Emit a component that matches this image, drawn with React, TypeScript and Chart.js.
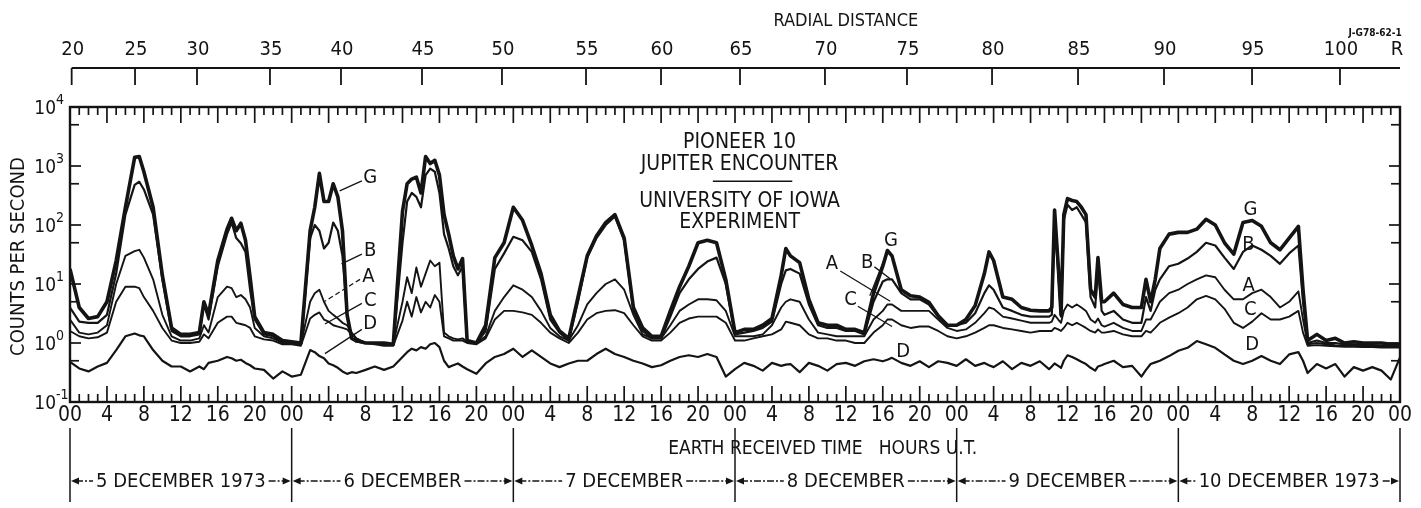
import React, { useEffect, useRef } from "react";
import { Chart, registerables } from "chart.js";

Chart.register(...registerables);

const INK = "#141414";
const FONT = "'Liberation Sans Narrow', 'DejaVu Sans Condensed', 'Liberation Sans', sans-serif";

// ---- time samples (hours after 00 UT, 5 December 1973) ----
const hours = [
  // 5 Dec
  0, 1, 2, 3, 4, 5, 6, 7, 7.5, 8, 9, 10, 11, 12, 13, 14, 14.5, 15, 16, 17, 17.5, 18, 18.5, 19, 19.5, 20, 21, 22, 23,
  // 6 Dec
  24, 25, 26, 26.5, 27, 27.5, 28, 28.5, 29, 29.5, 30, 30.5, 31, 32, 33, 34, 35, 36, 36.5, 37, 37.5, 38, 38.5, 39, 39.5, 40, 40.5, 41, 41.5, 42, 42.5, 43, 44, 45, 46, 47,
  // 7 Dec
  48, 49, 50, 51, 52, 53, 54, 55, 56, 57, 58, 59, 60, 61, 62, 63, 64, 65, 66, 67, 68, 69, 70, 71,
  // 8 Dec
  72, 73, 74, 75, 76, 77, 77.5, 78, 79, 80, 81, 82, 83, 84, 85, 86, 87, 88, 88.5, 89, 90, 91, 92, 93, 94, 95,
  // 9 Dec
  96, 97, 98, 99, 99.5, 100, 101, 102, 103, 104, 105, 106, 106.3, 106.6, 107, 107.3, 107.6, 108, 108.5, 109, 109.5, 110, 110.5, 111, 111.3, 111.7, 112, 113, 114, 115, 116, 116.5, 117, 117.5, 118, 119,
  // 10 Dec
  120, 121, 122, 123, 124, 125, 126, 127, 128, 129, 130, 131, 132, 133, 133.5, 134, 135, 136, 137, 138, 139, 140, 141, 142, 143, 144,
];

// ---- counts per second ----
const seriesG = [
  18, 4, 2.6, 2.8, 5, 25, 200, 1400, 1450, 800, 200, 14, 1.8, 1.4, 1.4, 1.5, 5, 3, 25, 85, 130, 80, 107, 55, 13, 2.8, 1.5, 1.4, 1.1,
  1.05, 1.0, 80, 200, 750, 250, 250, 500, 300, 80, 3, 1.2, 1.1, 1.0, 1.0, 1.0, 0.95, 170, 500, 600, 650, 350, 1450, 1100, 1250, 700, 150, 70, 30, 18, 27, 1.1, 1.0, 2, 28, 50,
  200, 120, 45, 15, 3, 1.6, 1.2, 6, 30, 65, 110, 150, 60, 4, 1.8, 1.3, 1.3, 3.5, 9, 20, 50, 55, 50, 12,
  1.5, 1.7, 1.7, 2, 2.6, 14, 40, 30, 23, 5.5, 2.2, 2, 2, 1.7, 1.7, 1.5, 7, 20, 37, 30, 8, 6.3, 6, 4.9, 2.9, 2,
  2, 2.5, 4.3, 15, 35, 25, 6, 5.5, 4, 3.6, 3.5, 3.5, 4, 180, 20, 3, 150, 280, 260, 250, 200, 150, 8, 6, 28, 5, 5, 7, 4.5, 4, 4, 12, 5, 12, 40, 70,
  75, 75, 85, 125, 100, 50, 32, 110, 119, 95, 50, 38, 60, 95, 8, 1.1, 1.4, 1.1, 1.2, 1.0, 1.05, 1.0, 1.0, 1.0, 0.95, 0.95,
];
const seriesB = [
  4, 2.3, 2.2, 2.2, 3, 15, 150, 480, 540, 400, 150, 12, 1.6, 1.3, 1.3, 1.4, 4.5, 2.5, 20, 70, 110, 60, 49, 35, 8, 2.5, 1.4, 1.3, 1.0,
  1.0, 0.95, 60, 100, 80, 40, 50, 110, 80, 30, 3, 1.2, 1.05, 1.0, 1.0, 0.95, 0.95, 50, 250, 350, 300, 200, 700, 900, 800, 350, 70, 40, 20, 14, 20, 1.05, 1.0, 1.6, 18, 33,
  63, 55, 35, 12, 2.5, 1.5, 1.1, 5, 28, 60, 100, 140, 55, 3.5, 1.6, 1.2, 1.2, 2.8, 7, 12, 18, 24, 28, 10,
  1.4, 1.5, 1.6, 1.8, 2.3, 10, 17, 18, 15, 4.5, 2, 1.8, 1.8, 1.6, 1.6, 1.4, 5, 11, 12, 12, 7, 5.5, 5.5, 4.5, 2.8, 2,
  2, 2.2, 3.2, 7, 9.5, 8, 4, 3.5, 3, 2.8, 2.8, 2.8, 3, 130, 15, 2.8, 120, 220, 180, 200, 150, 110, 6, 4, 20, 3.5, 3, 3.5, 2.5, 2.2, 2.2, 6, 3.5, 8, 12, 20,
  22, 27, 35, 50, 45, 28, 18, 35, 45, 38, 30, 22, 33, 45, 5, 1.0, 1.1, 1.0, 1.0, 0.95, 0.95, 0.92, 0.92, 0.9, 0.9, 0.9,
];
const seriesA = [
  2.5, 1.5, 1.4, 1.5, 2, 10, 30, 36, 38, 28, 12, 3, 1.3, 1.1, 1.1, 1.2, 2, 1.5, 6, 9, 8.5, 6, 6.5, 5.5, 4, 1.8, 1.3, 1.2, 1.0,
  1.0, 0.95, 5, 7, 8, 5, 3.5, 3, 2.6, 2.2, 2, 1.5, 1.2, 1.0, 1.0, 0.95, 0.95, 5, 13, 7, 19, 9, 15, 25, 20, 23, 1.5, 1.3, 1.2, 1.15, 1.2, 1.05, 1.0, 1.3, 3.5, 6,
  9.5, 8, 6, 3.5, 1.8, 1.3, 1.1, 2, 4.5, 7, 10, 12, 8, 3, 1.4, 1.2, 1.2, 2, 3.5, 4.5, 5.5, 5.5, 5.3, 3.5,
  1.3, 1.3, 1.3, 1.4, 2, 4, 5, 5.5, 5, 2.5, 1.5, 1.4, 1.3, 1.3, 1.3, 1.3, 2.5, 3.5, 4.5, 4.5, 3.5, 3.5, 3.5, 3.5, 2.5, 1.8,
  1.6, 1.7, 2.2, 3.2, 4, 3.8, 2.8, 2.6, 2.4, 2.2, 2.2, 2.2, 2.3, 3, 2.5, 2.2, 3.5, 4.5, 4, 4.5, 4, 3.5, 2.5, 2.2, 2.6, 2, 1.9, 2.2, 1.8, 1.6, 1.6, 2.5, 2.5, 3.5, 5, 7,
  8, 10, 12, 14, 13, 8, 5.5, 5.5, 7, 8, 6, 4, 5, 7.5, 2.5, 0.95, 1.0, 0.95, 0.92, 0.9, 0.9, 0.88, 0.88, 0.88, 0.86, 0.86,
];
const seriesC = [
  1.6, 1.3, 1.2, 1.25, 1.5, 5, 9, 9, 8.5, 6, 3.5, 1.8, 1.1, 1.0, 1.0, 1.05, 1.4, 1.2, 2.2, 2.8, 2.8, 2.2, 2.1, 2, 1.8, 1.3, 1.15, 1.1, 0.95,
  0.95, 0.9, 2.6, 3, 3.3, 2.5, 2.3, 2, 1.9, 1.8, 1.7, 1.4, 1.2, 1.0, 0.95, 0.9, 0.9, 2.4, 5, 2.8, 6, 3.3, 5, 4, 6.5, 5, 1.3, 1.2, 1.1, 1.1, 1.1, 1.0, 0.95, 1.2, 2.5, 3.5,
  3.5, 3.3, 3, 2.2, 1.5, 1.2, 1.0, 1.5, 2.5, 3.2, 3.5, 3.6, 3.2, 2, 1.3, 1.1, 1.1, 1.5, 2.2, 2.6, 2.8, 2.8, 2.8, 2.2,
  1.1, 1.1, 1.2, 1.3, 1.4, 1.7, 2.3, 2.2, 2, 1.4, 1.2, 1.2, 1.1, 1.1, 1.0, 1.0, 1.5, 2, 2.5, 2.5, 2, 1.8, 1.9, 1.9, 1.6, 1.3,
  1.2, 1.3, 1.5, 1.8, 2, 2, 1.8, 1.7, 1.6, 1.5, 1.6, 1.6, 1.6, 1.8, 1.7, 1.6, 1.8, 2.2, 2, 2.2, 2, 1.8, 1.6, 1.5, 1.7, 1.5, 1.5, 1.6, 1.4, 1.3, 1.3, 1.6, 1.5, 1.8, 2.2, 2.7,
  3.2, 4, 5.5, 6.3, 5.5, 3.8, 2.2, 1.8, 2.3, 3.2, 2.5, 2.5, 2.8, 3.5, 1.5, 0.9, 0.92, 0.9, 0.88, 0.86, 0.86, 0.85, 0.85, 0.84, 0.84, 0.84,
];
const seriesD = [
  0.48, 0.37, 0.33, 0.4, 0.46, 0.76, 1.3, 1.45, 1.35, 1.3, 0.76, 0.5, 0.4, 0.4, 0.33, 0.4, 0.36, 0.46, 0.5, 0.58, 0.55, 0.5, 0.52, 0.46, 0.42, 0.37, 0.35, 0.25, 0.33,
  0.27, 0.29, 0.76, 0.7, 0.6, 0.55, 0.45, 0.42, 0.38, 0.33, 0.3, 0.32, 0.31, 0.35, 0.4, 0.35, 0.4, 0.58, 0.7, 0.8, 0.75, 0.85, 0.8, 0.95, 1.0, 0.85, 0.5, 0.39, 0.42, 0.45, 0.4, 0.36, 0.3, 0.45, 0.58, 0.65,
  0.8, 0.58, 0.75, 0.58, 0.45, 0.39, 0.45, 0.5, 0.5, 0.65, 0.8, 0.65, 0.58, 0.5, 0.45, 0.39, 0.42, 0.5, 0.58, 0.62, 0.58, 0.65, 0.58, 0.27,
  0.36, 0.46, 0.41, 0.34, 0.46, 0.41, 0.43, 0.44, 0.32, 0.46, 0.41, 0.34, 0.44, 0.46, 0.41, 0.49, 0.53, 0.49, 0.52, 0.56, 0.46, 0.41, 0.49, 0.39, 0.49, 0.46,
  0.41, 0.53, 0.41, 0.46, 0.42, 0.39, 0.49, 0.36, 0.46, 0.41, 0.49, 0.36, 0.4, 0.45, 0.41, 0.38, 0.5, 0.62, 0.58, 0.53, 0.48, 0.44, 0.38, 0.34, 0.4, 0.42, 0.44, 0.5, 0.39, 0.41, 0.27, 0.35, 0.44, 0.47, 0.5, 0.6,
  0.74, 0.83, 1.08, 0.95, 0.83, 0.64, 0.5, 0.44, 0.5, 0.6, 0.5, 0.44, 0.64, 0.7, 0.5, 0.31, 0.44, 0.37, 0.44, 0.27, 0.39, 0.34, 0.39, 0.34, 0.24, 0.57,
];

// ---- axes ----
const bottomTickHours = [0, 4, 8, 12, 16, 20, 24, 28, 32, 36, 40, 44, 48, 52, 56, 60, 64, 68, 72, 76, 80, 84, 88, 92, 96, 100, 104, 108, 112, 116, 120, 124, 128, 132, 136, 140, 144];
const bottomTickLabels = ["00", "4", "8", "12", "16", "20", "00", "4", "8", "12", "16", "20", "00", "4", "8", "12", "16", "20", "00", "4", "8", "12", "16", "20", "00", "4", "8", "12", "16", "20", "00", "4", "8", "12", "16", "20", "00"];
const radialTickHours = [0.18, 7.04, 13.75, 21.65, 29.34, 38.11, 46.77, 55.87, 63.99, 72.54, 81.74, 90.62, 99.83, 109.14, 118.45, 127.98, 137.5];
const radialTickLabels = ["20", "25", "30", "35", "40", "45", "50", "55", "60", "65", "70", "75", "80", "85", "90", "95", "100"];
const yTickValues = [0.1, 1, 10, 100, 1000, 10000];
const yTickExponents = ["-1", "0", "1", "2", "3", "4"];
const yMinorTickValues = [0.5, 5, 50, 500, 5000];
const dayStartHours = [0, 24, 48, 72, 96, 120, 144];
const dayLabels = ["5 DECEMBER 1973", "6 DECEMBER", "7 DECEMBER", "8 DECEMBER", "9 DECEMBER", "10 DECEMBER 1973"];

// ---- curve labels (hour, counts) with leader lines ----
type Lbl = { t: string; x: number; y: number; from?: [number, number]; to?: [number, number]; dash?: boolean };
const curveLabels: Lbl[] = [
  { t: "G", x: 32.5, y: 630, from: [31.6, 560], to: [29.2, 380] },
  { t: "B", x: 32.5, y: 36, from: [31.6, 32], to: [29.4, 22] },
  { t: "A", x: 32.3, y: 13.5, from: [31.4, 12], to: [27.6, 5.1], dash: true },
  { t: "C", x: 32.5, y: 5.1, from: [31.6, 4.7], to: [27.6, 2.1] },
  { t: "D", x: 32.5, y: 2.1, from: [31.6, 1.7], to: [27.6, 0.66] },
  { t: "G", x: 88.9, y: 54, from: [88.5, 36], to: [86.6, 6.3] },
  { t: "B", x: 86.3, y: 23, from: [87.1, 19.5], to: [88.8, 12.3] },
  { t: "A", x: 82.5, y: 22, from: [83.4, 16.6], to: [88.8, 5.1] },
  { t: "C", x: 84.5, y: 5.5, from: [85.3, 4.2], to: [89.0, 1.9] },
  { t: "D", x: 90.2, y: 0.72 },
  { t: "G", x: 127.8, y: 178 },
  { t: "B", x: 127.6, y: 47 },
  { t: "A", x: 127.6, y: 9.3 },
  { t: "C", x: 127.8, y: 3.7 },
  { t: "D", x: 128.0, y: 0.93 },
];

const titleLines = ["PIONEER 10", "JUPITER ENCOUNTER", "UNIVERSITY OF IOWA", "EXPERIMENT"];
const titleLineCounts = [2500, 1050, 245, 108];

const decorPlugin = {
  id: "decor",
  afterDraw(chart: any) {
    const { ctx, chartArea: a, scales } = chart;
    const xs = scales.x;
    const ys = scales.y;
    const X = (h: number) => xs.getPixelForValue(h);
    const Y = (v: number) => ys.getPixelForValue(v);
    const line = (x1: number, y1: number, x2: number, y2: number) => {
      ctx.beginPath();
      ctx.moveTo(x1, y1);
      ctx.lineTo(x2, y2);
      ctx.stroke();
    };
    ctx.save();
    ctx.strokeStyle = INK;
    ctx.fillStyle = INK;
    ctx.lineCap = "butt";

    // frame
    ctx.lineWidth = 2.4;
    ctx.strokeRect(a.left, a.top, a.right - a.left, a.bottom - a.top);

    // inward hour ticks top & bottom
    ctx.lineWidth = 1.7;
    for (let h = 0; h <= 144; h++) {
      const px = X(h);
      const major = h % 4 === 0;
      line(px, a.top, px, a.top + (major ? 16 : 8));
      line(px, a.bottom, px, a.bottom - (major ? 16 : 8));
    }
    // inward log ticks left & right
    for (const v of yTickValues) {
      const py = Y(v);
      line(a.left, py, a.left + 11, py);
      line(a.right, py, a.right - 11, py);
    }
    for (const v of yMinorTickValues) {
      const py = Y(v);
      line(a.left, py, a.left + 9, py);
      line(a.right, py, a.right - 9, py);
    }

    // y tick labels with superscripts
    ctx.textBaseline = "middle";
    for (let i = 0; i < yTickValues.length; i++) {
      const py = Y(yTickValues[i]);
      ctx.font = `19px ${FONT}`;
      ctx.textAlign = "right";
      ctx.fillText("10", 56, py + 2);
      ctx.font = `14px ${FONT}`;
      ctx.textAlign = "left";
      ctx.fillText(yTickExponents[i], 56, py - 7);
    }

    // y title
    ctx.save();
    ctx.translate(19, (a.top + a.bottom) / 2 + 2);
    ctx.rotate(-Math.PI / 2);
    ctx.font = `20px ${FONT}`;
    ctx.textAlign = "center";
    ctx.fillText("COUNTS PER SECOND", 0, 0);
    ctx.restore();

    // radial distance axis
    const ry = 68;
    ctx.lineWidth = 1.8;
    line(X(radialTickHours[0]), ry, X(144), ry);
    ctx.font = `20px ${FONT}`;
    ctx.textAlign = "center";
    ctx.textBaseline = "middle";
    for (let i = 0; i < radialTickHours.length; i++) {
      const px = X(radialTickHours[i]);
      line(px, ry, px, ry + 17);
      ctx.fillText(radialTickLabels[i], px + 1, 50);
    }
    ctx.fillText("R", X(144) - 3, 50);
    ctx.font = `18px ${FONT}`;
    ctx.fillText("RADIAL DISTANCE", X(84), 21);
    ctx.font = `bold 10px ${FONT}`;
    ctx.fillText("J-G78-62-1", X(141.3), 33);

    // x title
    ctx.font = `19px ${FONT}`;
    ctx.fillText("EARTH RECEIVED TIME   HOURS U.T.", X(81.5), 449);

    // day brackets
    ctx.lineWidth = 1.5;
    for (const h of dayStartHours) {
      line(X(h), 428, X(h), 502);
    }
    ctx.font = `20px ${FONT}`;
    for (let i = 0; i < dayLabels.length; i++) {
      const x0 = X(dayStartHours[i]);
      const x1 = X(dayStartHours[i + 1]);
      const cx = (x0 + x1) / 2;
      const w = ctx.measureText(dayLabels[i]).width;
      const yy = 481;
      ctx.fillText(dayLabels[i], cx, yy + 1);
      ctx.setLineDash([7, 2, 2, 2]);
      ctx.lineWidth = 1.3;
      line(x0 + 6, yy, cx - w / 2 - 3, yy);
      line(cx + w / 2 + 3, yy, x1 - 6, yy);
      ctx.setLineDash([]);
      ctx.beginPath();
      ctx.moveTo(x0 + 1, yy);
      ctx.lineTo(x0 + 9, yy - 3.5);
      ctx.lineTo(x0 + 9, yy + 3.5);
      ctx.closePath();
      ctx.fill();
      ctx.beginPath();
      ctx.moveTo(x1 - 1, yy);
      ctx.lineTo(x1 - 9, yy - 3.5);
      ctx.lineTo(x1 - 9, yy + 3.5);
      ctx.closePath();
      ctx.fill();
    }

    // title block
    ctx.font = `21px ${FONT}`;
    ctx.textAlign = "center";
    for (let i = 0; i < titleLines.length; i++) {
      ctx.fillText(titleLines[i], X(72.5), Y(titleLineCounts[i]));
    }
    ctx.lineWidth = 1.6;
    line(X(69.6), Y(550), X(78.2), Y(550));

    // curve labels
    ctx.font = `20px ${FONT}`;
    ctx.lineWidth = 1.3;
    for (const l of curveLabels) {
      ctx.fillText(l.t, X(l.x), Y(l.y));
      if (l.from && l.to) {
        ctx.setLineDash(l.dash ? [5, 3] : []);
        line(X(l.from[0]), Y(l.from[1]), X(l.to[0]), Y(l.to[1]));
        ctx.setLineDash([]);
      }
    }
    ctx.restore();
  },
};

export default function App() {
  const ref = useRef<HTMLCanvasElement | null>(null);
  useEffect(() => {
    document.body.style.margin = "0";
    document.body.style.background = "#ffffff";
    const pts = (vals: number[]) => hours.map((h, i) => ({ x: h, y: vals[i] }));
    const ds = (label: string, vals: number[], w: number) => ({
      label,
      data: pts(vals),
      borderColor: INK,
      borderWidth: w,
      pointRadius: 0,
      tension: 0,
      fill: false,
      borderJoinStyle: "round" as const,
    });
    const chart = new Chart(ref.current as HTMLCanvasElement, {
      type: "line",
      data: {
        datasets: [
          ds("D", seriesD, 2.2),
          ds("C", seriesC, 1.9),
          ds("A", seriesA, 1.9),
          ds("B", seriesB, 2.2),
          ds("G", seriesG, 3.6),
        ],
      },
      options: {
        animation: false,
        responsive: false,
        devicePixelRatio: 1,
        layout: { padding: { top: 107, right: 21, left: 0, bottom: 0 } },
        plugins: { legend: { display: false }, tooltip: { enabled: false }, title: { display: false } },
        scales: {
          x: {
            type: "linear",
            min: 0,
            max: 144,
            afterBuildTicks: (s: any) => {
              s.ticks = bottomTickHours.map((v) => ({ value: v }));
            },
            afterFit: (s: any) => {
              s.height = 106;
            },
            ticks: {
              autoSkip: false,
              maxRotation: 0,
              padding: 1,
              color: INK,
              font: { family: FONT, size: 21 },
              callback: (_v: any, i: number) => bottomTickLabels[i],
            },
            grid: { display: false, drawTicks: false },
            border: { display: false },
          },
          y: {
            type: "logarithmic",
            min: 0.1,
            max: 10000,
            afterBuildTicks: (s: any) => {
              s.ticks = yTickValues.map((v) => ({ value: v }));
            },
            afterFit: (s: any) => {
              s.width = 70;
            },
            ticks: { display: false },
            grid: { display: false, drawTicks: false },
            border: { display: false },
          },
        },
      },
      plugins: [decorPlugin],
    });
    return () => chart.destroy();
  }, []);
  return (
    <div style={{ width: 1421, height: 508, background: "#fff" }}>
      <canvas ref={ref} width={1421} height={508} style={{ display: "block" }} />
    </div>
  );
}
